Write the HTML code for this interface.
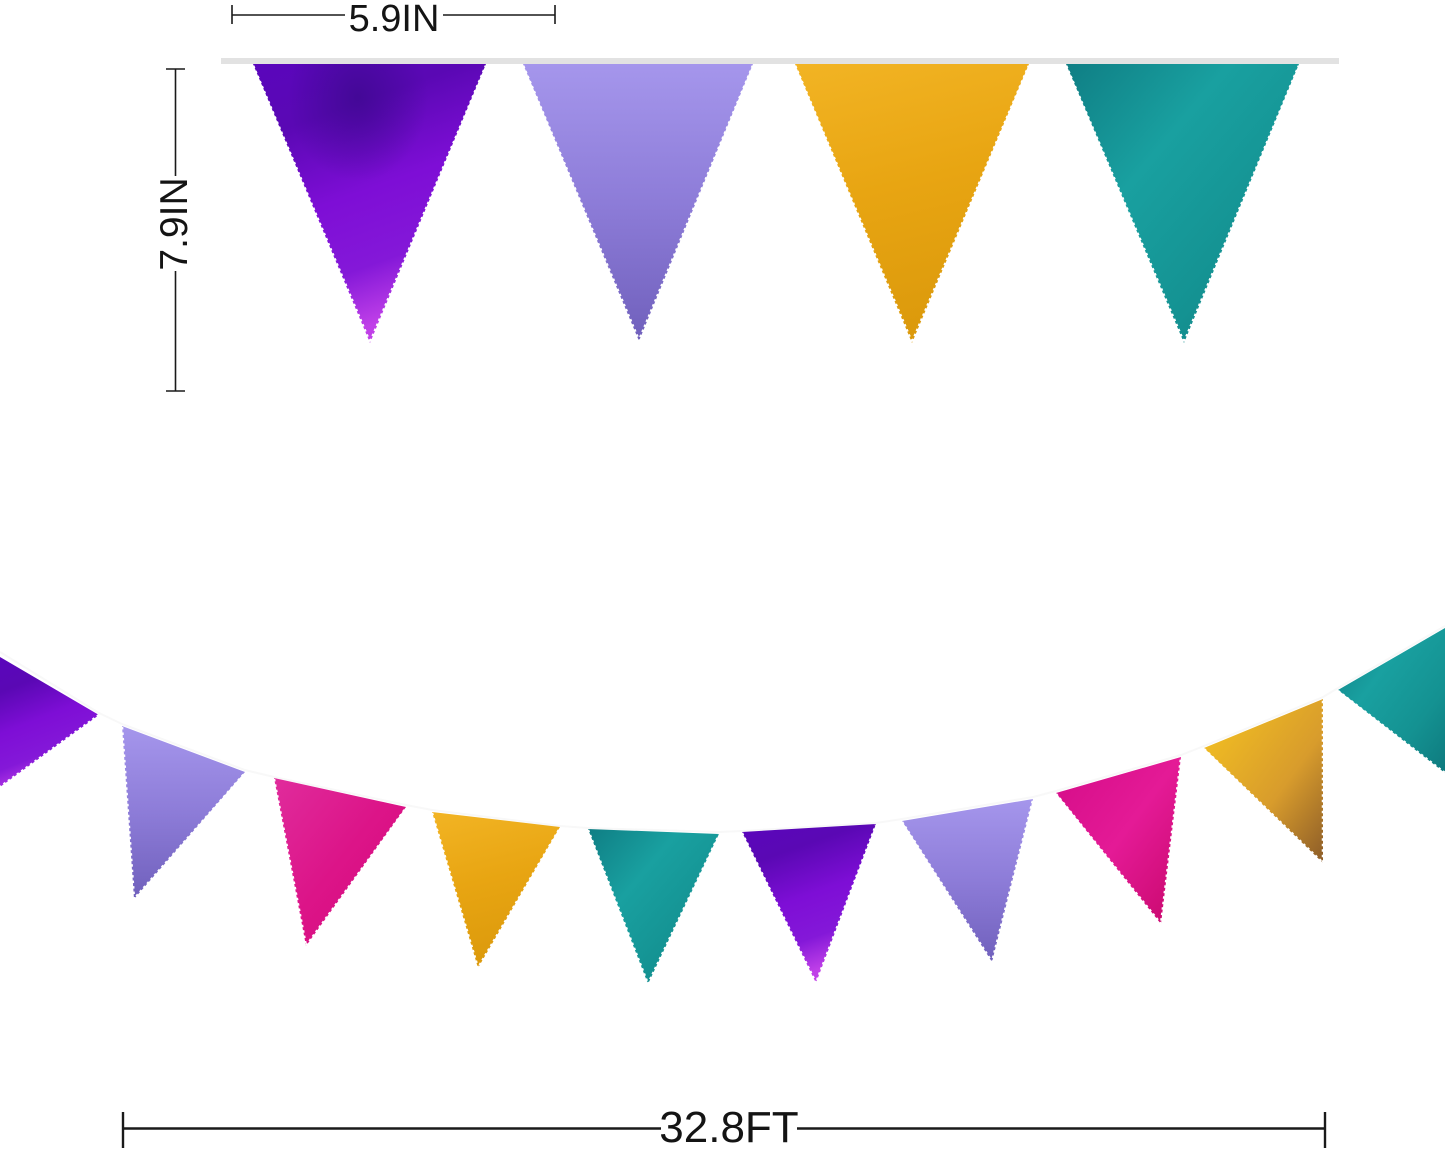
<!DOCTYPE html>
<html><head><meta charset="utf-8"><style>
html,body{margin:0;padding:0;background:#fff;}
svg{display:block;}
text{font-family:"Liberation Sans",Arial,sans-serif;fill:#141414;}
</style></head><body>
<svg width="1445" height="1151" viewBox="0 0 1445 1151" xmlns="http://www.w3.org/2000/svg">
<defs>
<linearGradient id="gP" x1="0" y1="0" x2="0.3" y2="1">
<stop offset="0" stop-color="#5a06bc"/><stop offset="0.25" stop-color="#5a08b4"/><stop offset="0.55" stop-color="#7e0ed6"/><stop offset="0.8" stop-color="#8418d8"/><stop offset="1" stop-color="#c040e8"/>
</linearGradient>
<radialGradient id="gPs" cx="0.45" cy="0.12" r="0.3">
<stop offset="0" stop-color="#3e0890" stop-opacity="0.8"/><stop offset="1" stop-color="#3e0890" stop-opacity="0"/>
</radialGradient>
<linearGradient id="gL" x1="0" y1="0" x2="0" y2="1">
<stop offset="0" stop-color="#a596ec"/><stop offset="0.5" stop-color="#8d7cd8"/><stop offset="1" stop-color="#7060bc"/>
</linearGradient>
<linearGradient id="gG" x1="0" y1="0" x2="0.2" y2="1">
<stop offset="0" stop-color="#f2b424"/><stop offset="0.5" stop-color="#e8a512"/><stop offset="1" stop-color="#dc9a0c"/>
</linearGradient>
<linearGradient id="gG2" x1="0" y1="0" x2="1" y2="1">
<stop offset="0" stop-color="#f6c420"/><stop offset="0.6" stop-color="#d89c2c"/><stop offset="1" stop-color="#8c5c28"/>
</linearGradient>
<linearGradient id="gT" x1="0" y1="0" x2="1" y2="1">
<stop offset="0" stop-color="#0f7e84"/><stop offset="0.35" stop-color="#19a0a0"/><stop offset="0.7" stop-color="#149292"/><stop offset="1" stop-color="#0e7a7e"/>
</linearGradient>
<linearGradient id="gM" x1="0" y1="0" x2="1" y2="1">
<stop offset="0" stop-color="#d40c88"/><stop offset="0.5" stop-color="#e41a96"/><stop offset="1" stop-color="#c8086c"/>
</linearGradient>
<linearGradient id="gM2" x1="0" y1="0" x2="1" y2="1">
<stop offset="0" stop-color="#e02c9c"/><stop offset="0.5" stop-color="#dc1488"/><stop offset="1" stop-color="#d4087c"/>
</linearGradient>
</defs>

<!-- top measurement 5.9IN -->
<g stroke="#1a1a1a" stroke-width="1.6" fill="none">
<line x1="232" y1="15" x2="345" y2="15"/>
<line x1="443" y1="15" x2="555" y2="15"/>
<line x1="232" y1="5" x2="232" y2="24"/>
<line x1="555" y1="5" x2="555" y2="24"/>
</g>
<text x="394" y="31" font-size="38" text-anchor="middle">5.9IN</text>

<!-- vertical measurement 7.9IN -->
<g stroke="#1a1a1a" stroke-width="1.6" fill="none">
<line x1="175.5" y1="69" x2="175.5" y2="176"/>
<line x1="175.5" y1="271" x2="175.5" y2="391"/>
<line x1="166" y1="69" x2="185" y2="69"/>
<line x1="166" y1="391" x2="185" y2="391"/>
</g>
<text transform="translate(187,224) rotate(-90)" x="0" y="0" font-size="39" text-anchor="middle">7.9IN</text>

<!-- top string -->
<rect x="221" y="58" width="1118" height="6" fill="#e2e2e2"/>

<!-- top pennants -->
<g>
<polygon points="253,64 486,64 370,343" fill="url(#gP)"/>
<polygon points="253,64 486,64 370,343" fill="url(#gPs)"/>
<polygon points="523,64 753,64 639,341" fill="url(#gL)"/>
<polygon points="795,64 1029,64 912,343" fill="url(#gG)"/>
<polygon points="1066,64 1299,64 1184,343" fill="url(#gT)"/>
</g>
<g stroke="#fff" stroke-width="3" stroke-dasharray="2.5 3" fill="none">
<polyline points="253,66 370,343 486,66"/>
<polyline points="523,66 639,341 753,66"/>
<polyline points="795,66 912,343 1029,66"/>
<polyline points="1066,66 1184,343 1299,66"/>
</g>

<!-- bottom string -->
<polyline points="0,652 99,713 122,724 245,770 274,777 406,805 432,810 560,826 588,828 719,832 742,831 876,823 902,819 1033,797 1056,791 1181,755 1204,746 1323,697 1338,688 1445,626" fill="none" stroke="#f8f8f8" stroke-width="2"/>

<!-- bottom pennants -->
<g>
<polygon points="0,657 99,715 0,787" fill="url(#gP)"/>
<polygon points="122,726 245,772 134,899" fill="url(#gL)"/>
<polygon points="274,778 406,807 306,946" fill="url(#gM2)"/>
<polygon points="432,812 560,827 478,968" fill="url(#gG)"/>
<polygon points="588,829 719,834 648,984" fill="url(#gT)"/>
<polygon points="742,832 876,824 816,983" fill="url(#gP)"/>
<polygon points="902,821 1033,799 992,962" fill="url(#gL)"/>
<polygon points="1056,793 1181,757 1161,924" fill="url(#gM)"/>
<polygon points="1204,748 1323,699 1323,863" fill="url(#gG2)"/>
<polygon points="1338,690 1445,628 1445,773" fill="url(#gT)"/>
</g>
<g stroke="#fff" stroke-width="2.5" stroke-dasharray="2.5 3" fill="none">
<polyline points="99,715 0,787"/>
<polyline points="122,727 134,899 245,773"/>
<polyline points="274,779 306,946 406,808"/>
<polyline points="432,813 478,968 560,828"/>
<polyline points="588,830 648,984 719,835"/>
<polyline points="742,833 816,983 876,825"/>
<polyline points="902,822 992,962 1033,800"/>
<polyline points="1056,794 1161,924 1181,758"/>
<polyline points="1204,749 1323,863 1323,700"/>
<polyline points="1338,691 1445,773"/>
</g>

<!-- bottom measurement 32.8FT -->
<g stroke="#1a1a1a" stroke-width="2.4" fill="none">
<line x1="123" y1="1128.5" x2="661" y2="1128.5"/>
<line x1="797" y1="1128.5" x2="1325" y2="1128.5"/>
<line x1="123" y1="1112" x2="123" y2="1148"/>
<line x1="1325" y1="1112" x2="1325" y2="1148"/>
</g>
<text x="729" y="1142" font-size="44" text-anchor="middle">32.8FT</text>
</svg>
</body></html>
